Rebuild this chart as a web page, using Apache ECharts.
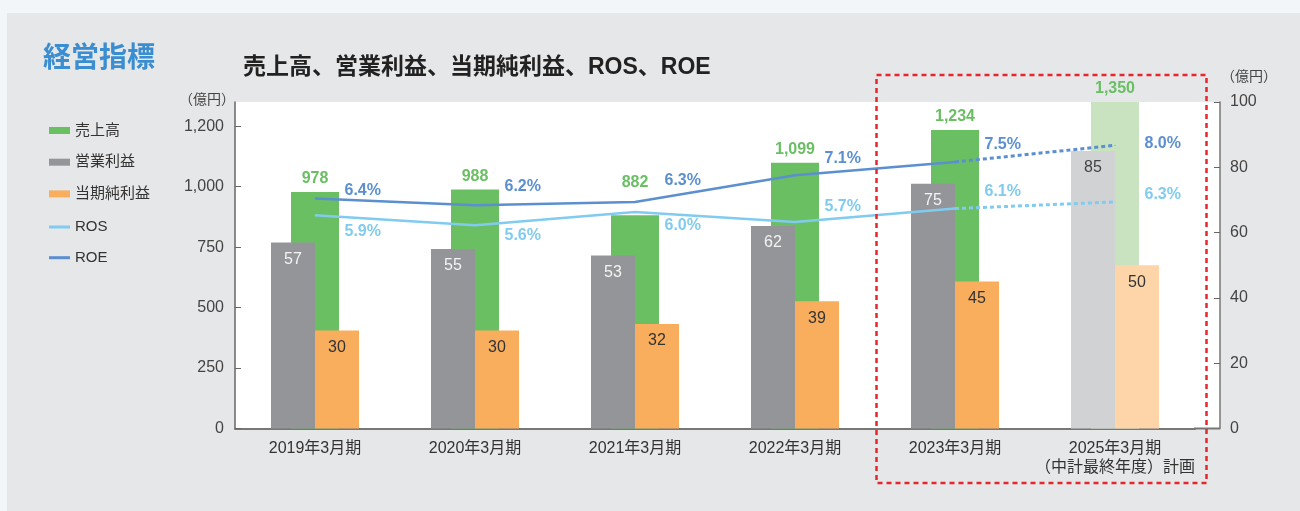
<!DOCTYPE html>
<html>
<head>
<meta charset="utf-8">
<title>経営指標</title>
<script src="https://cdn.jsdelivr.net/npm/echarts@6/dist/echarts.min.js"></script>
<style>
  html, body { margin: 0; padding: 0; }
  #chart { width: 1300px; height: 511px; }
</style>
</head>
<body>
<div id="chart"></div>
<script>
// 経営指標グラフ

// データ
var categories = ['2019年3月期', '2020年3月期', '2021年3月期', '2022年3月期', '2023年3月期', '2025年3月期\n（中計最終年度）計画'];
var sales = [978, 988, 882, 1099, 1234, 1350];      // 売上高（億円）
var opProfit = [57, 55, 53, 62, 75, 85];            // 営業利益（億円）
var netProfit = [30, 30, 32, 39, 45, 50];           // 当期純利益（億円）
var ros = [5.9, 5.6, 6.0, 5.7, 6.1, 6.3];           // ROS（%）
var roe = [6.4, 6.2, 6.3, 7.1, 7.5, 8.0];           // ROE（%）
var leftTicks = [0, 250, 500, 750, 1000, 1250];
var leftTickLabels = ['0', '250', '500', '750', '1,000', '1,200'];
var rightTicks = [0, 20, 40, 60, 80, 100];
var planIndex = 5;   // 計画値（最後の項目）
var lastActual = 4;

// ラベルの上下位置
var salesLabelDy = [0, 0, -20, 0, 0, 0];
var roeLabelDy = [-8, -19, -21, -17, -17, -2];
var rosLabelDy = [16, 10, 14, -15, -17, -7];

var FONT = "'Liberation Sans', 'Noto Sans CJK JP', sans-serif";
var GREEN = '#6abf63', GRAY = '#939598', ORANGE = '#f9ae5e';
var GREEN_L = '#c9e3c1', GRAY_L = '#d1d2d4', ORANGE_L = '#fdd5a9';
var ROS_C = '#80cbef', ROE_C = '#5b8fd0';

var chart = echarts.init(document.getElementById('chart'));

// 計画値は薄い色にする
function barData(vals, light, labelColor, dys) {
    return vals.map(function (v, i) {
        var item = { value: v };
        if (dys && dys[i]) item.label = { offset: [0, dys[i]] };
        if (i === planIndex) {
            item.itemStyle = { color: light };
            if (labelColor) item.label = { color: labelColor };
        }
        return item;
    });
}

// 折れ線：実績は実線、計画は点線
function lineData(vals, dys, from, to, labelFrom) {
    return vals.map(function (v, i) {
        if (i < from || i > to) return '-';
        return { value: v, label: { show: i >= labelFrom, offset: [0, dys[i]] } };
    });
}

function lineSeries(name, vals, dys, color, dotted) {
    return {
        name: name,
        type: 'line',
        xAxisIndex: 0,
        yAxisIndex: 2,
        z: 5,
        symbol: 'circle',
        symbolSize: 1,
        itemStyle: { color: color },
        lineStyle: { color: color, width: dotted ? 3 : 2.5, type: dotted ? [4, 3] : 'solid' },
        label: {
            position: 'right',
            distance: 29,
            align: 'left',
            verticalAlign: 'middle',
            color: color,
            fontFamily: FONT,
            fontSize: 16,
            fontWeight: 'bold',
            formatter: function (p) { return p.value.toFixed(1) + '%'; }
        },
        data: dotted ? lineData(vals, dys, lastActual, planIndex, planIndex)
                     : lineData(vals, dys, 0, lastActual, 0)
    };
}

var option = {
    backgroundColor: '#f3f6f9',
    animation: false,
    title: [
        {
            text: '経営指標',
            left: 43, top: 45, padding: 0,
            textStyle: { color: '#3a8dd0', fontSize: 28, fontWeight: 'bold', fontFamily: FONT }
        },
        {
            text: '売上高、営業利益、当期純利益、ROS、ROE',
            left: 243, top: 56, padding: 0,
            textStyle: { color: '#222', fontSize: 23, fontWeight: 'bold', fontFamily: FONT }
        }
    ],
    legend: [
        {
            orient: 'vertical', left: 49, top: 122.5, padding: 0,
            icon: 'rect', itemWidth: 21, itemHeight: 7, itemGap: 15.7,
            selectedMode: false,
            textStyle: { color: '#333', fontSize: 15, lineHeight: 16, fontFamily: FONT },
            data: ['売上高', '営業利益', '当期純利益']
        },
        {
            orient: 'vertical', left: 49, top: 219, padding: 0,
            icon: 'rect', itemWidth: 21, itemHeight: 3, itemGap: 14.7,
            selectedMode: false,
            textStyle: { color: '#333', fontSize: 15, lineHeight: 16, fontFamily: FONT },
            data: ['ROS', 'ROE']
        }
    ],
    grid: { left: 235, top: 102, width: 960, height: 326.5 },
    xAxis: [
        {
            type: 'category',
            data: categories,
            axisLine: { lineStyle: { color: '#777', width: 2 } },
            axisTick: { show: false },
            axisLabel: { interval: 0, margin: 11, color: '#333', fontSize: 16, lineHeight: 19, fontFamily: FONT }
        },
        {
            type: 'category',
            data: categories,
            show: false
        }
    ],
    yAxis: [
        {
            type: 'value',
            position: 'left',
            min: 0, max: 1350, interval: 250,
            name: '（億円）',
            nameLocation: 'end',
            nameGap: 2,
            nameTextStyle: { color: '#444', fontSize: 14, align: 'right', verticalAlign: 'middle', padding: [0, 0, 0, 0], fontFamily: FONT },
            axisLine: { show: true, lineStyle: { color: '#666', width: 1.5 } },
            axisTick: { show: true, inside: true, length: 6, customValues: leftTicks, lineStyle: { color: '#666' } },
            axisLabel: {
                customValues: leftTicks,
                margin: 11,
                color: '#444', fontSize: 16, fontFamily: FONT,
                formatter: function (v) {
                    var i = leftTicks.indexOf(v);
                    return i < 0 ? '' : leftTickLabels[i];
                }
            },
            splitLine: { show: false }
        },
        {
            type: 'value',
            position: 'right',
            offset: 25,
            min: 0, max: 100, interval: 20,
            name: '（億円）',
            nameLocation: 'end',
            nameGap: 25,
            nameTextStyle: { color: '#444', fontSize: 14, align: 'left', verticalAlign: 'middle', padding: [0, 0, 0, 1], fontFamily: FONT },
            axisLine: { show: true, lineStyle: { color: '#777', width: 1.5 } },
            axisTick: { show: true, inside: true, length: 6, customValues: rightTicks, lineStyle: { color: '#666' } },
            axisLabel: { customValues: rightTicks, margin: 10, color: '#444', fontSize: 16, fontFamily: FONT },
            splitLine: { show: false }
        },
        {
            // ROS・ROE 用（非表示）
            type: 'value',
            show: false,
            min: -0.5, max: 9.3
        }
    ],
    graphic: [
        { type: 'rect', z: -20, silent: true, shape: { x: 7, y: 13, width: 1293, height: 498 }, style: { fill: '#e6e7e9' } },
        { type: 'rect', z: -10, silent: true, shape: { x: 235, y: 102, width: 985, height: 326.5 }, style: { fill: '#ffffff' } },
        { type: 'line', z: 10, silent: true, shape: { x1: 1194, y1: 428.5, x2: 1220, y2: 428.5 }, style: { stroke: '#777', lineWidth: 2 } },
        {
            type: 'rect', z: 100, silent: true,
            shape: { x: 876.5, y: 75, width: 330, height: 408 },
            style: { fill: 'none', stroke: '#e8262d', lineWidth: 2.5, lineDash: [5, 4] }
        }
    ],
    series: [
        {
            name: '売上高',
            type: 'bar',
            xAxisIndex: 1,
            yAxisIndex: 0,
            z: 1,
            barWidth: 48,
            itemStyle: { color: GREEN },
            label: {
                show: true, position: 'top', distance: 5,
                color: GREEN, fontSize: 16, fontWeight: 'bold', fontFamily: FONT,
                formatter: function (p) { return p.value.toLocaleString('en-US'); }
            },
            data: barData(sales, GREEN_L, null, salesLabelDy)
        },
        {
            name: '営業利益',
            type: 'bar',
            xAxisIndex: 0,
            yAxisIndex: 1,
            z: 2,
            barWidth: 44,
            barGap: '0%',
            itemStyle: { color: GRAY },
            label: { show: true, position: 'insideTop', distance: 9, color: '#f4f4f4', fontSize: 16, fontFamily: FONT },
            data: barData(opProfit, GRAY_L, '#444')
        },
        {
            name: '当期純利益',
            type: 'bar',
            xAxisIndex: 0,
            yAxisIndex: 1,
            z: 2,
            barWidth: 44,
            barGap: '0%',
            itemStyle: { color: ORANGE },
            label: { show: true, position: 'insideTop', distance: 9, color: '#333', fontSize: 16, fontFamily: FONT },
            data: barData(netProfit, ORANGE_L)
        },
        lineSeries('ROS', ros, rosLabelDy, ROS_C, false),
        lineSeries('ROS', ros, rosLabelDy, ROS_C, true),
        lineSeries('ROE', roe, roeLabelDy, ROE_C, false),
        lineSeries('ROE', roe, roeLabelDy, ROE_C, true)
    ]
};

chart.setOption(option);
</script>
</body>
</html>
